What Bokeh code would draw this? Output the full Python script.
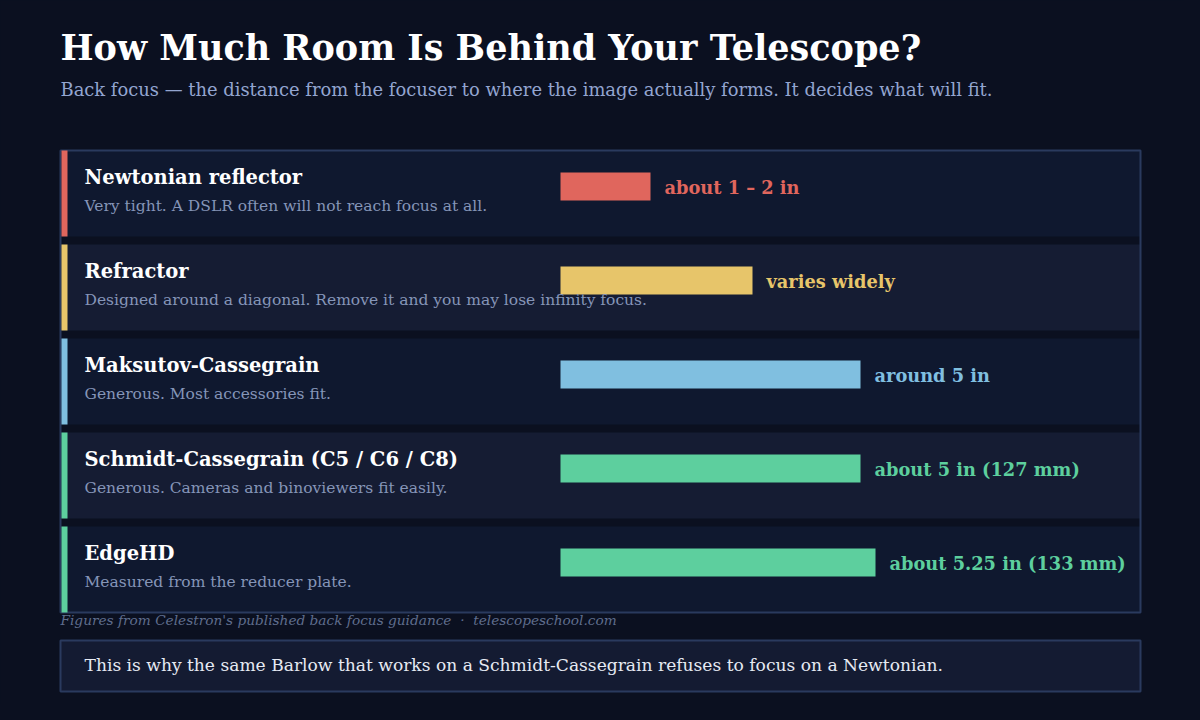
from bokeh.plotting import figure
from bokeh.models import Range1d, ColumnDataSource
from bokeh.core.properties import value
from bokeh.embed import file_html
from bokeh.resources import INLINE

# ---- data ----
scopes = ["Newtonian reflector", "Refractor", "Maksutov-Cassegrain",
          "Schmidt-Cassegrain (C5 / C6 / C8)", "EdgeHD"]
notes = ["Very tight. A DSLR often will not reach focus at all.",
         "Designed around a diagonal. Remove it and you may lose infinity focus.",
         "Generous. Most accessories fit.",
         "Generous. Cameras and binoviewers fit easily.",
         "Measured from the reducer plate."]
back_focus_in = [1.5, 3.2, 5.0, 5.0, 5.25]
value_labels = ["about 1 \u2013 2 in", "varies widely", "around 5 in",
                "about 5 in (127 mm)", "about 5.25 in (133 mm)"]
colors = ["#e0665d", "#e7c56a", "#80bfe0", "#5dcf9e", "#5dcf9e"]

title = "How Much Room Is Behind Your Telescope?"
subtitle = ("Back focus \u2014 the distance from the focuser to where the image "
            "actually forms. It decides what will fit.")
source_note = "Figures from Celestron's published back focus guidance \u00a0\u00b7\u00a0 telescopeschool.com"
takeaway = ("This is why the same Barlow that works on a Schmidt-Cassegrain "
            "refuses to focus on a Newtonian.")

# ---- style / layout ----
BG = "#0b1020"
ROW_FILLS = ["#0f182f", "#151c33"]
BORDER = "#2a3a5e"
FONT = value("DejaVu Serif")
W, H = 1184, 704
PANEL_L, PANEL_R, PANEL_T = 60, 1140, 150
ROW_H, GAP = 86, 8
BAR_X0, PX_PER_IN = 560, 60.0

p = figure(width=W, height=H, output_backend="svg", toolbar_location=None,
           x_range=Range1d(0, W), y_range=Range1d(H, 0),
           min_border=0, background_fill_color=BG, border_fill_color=BG,
           outline_line_color=None)
p.axis.visible = False
p.grid.visible = False
p.extra_x_ranges = {"inch": Range1d((0 - BAR_X0) / PX_PER_IN, (W - BAR_X0) / PX_PER_IN)}

n = len(scopes)
tops = [PANEL_T + i * (ROW_H + GAP) for i in range(n)]
bottoms = [t + ROW_H for t in tops]
src = ColumnDataSource(dict(
    name=scopes, note=notes, v=back_focus_in, lab=value_labels, color=colors,
    top=tops, bottom=bottoms, fill=[ROW_FILLS[i % 2] for i in range(n)],
    name_y=[t + 27 for t in tops], note_y=[t + 55 for t in tops],
    bar_t=[t + 22 for t in tops], bar_b=[t + 50 for t in tops],
    lab_y=[t + 37 for t in tops], zero=[0] * n,
))

# rows
p.quad(left=PANEL_L, right=PANEL_R, top="top", bottom="bottom", fill_color="fill",
       line_color=None, source=src)
# outer border
p.quad(left=[PANEL_L], right=[PANEL_R], top=[PANEL_T], bottom=[bottoms[-1]],
       fill_color=None, line_color=BORDER, line_width=2)
# accent strips
p.quad(left=PANEL_L + 1, right=PANEL_L + 7, top="top", bottom="bottom",
       fill_color="color", line_color=None, source=src)
# bars
p.quad(left="zero", right="v", top="bar_t", bottom="bar_b", fill_color="color",
       line_color=None, source=src, x_range_name="inch")
p.text(x="v", y="lab_y", text="lab", text_color="color", x_offset=14,
       text_font=FONT, text_font_style="bold", text_font_size="17.8px",
       text_baseline="alphabetic", source=src, x_range_name="inch")
# names and notes
p.text(x=84, y="name_y", text="name", text_color="#ffffff", text_font=FONT,
       text_font_style="bold", text_font_size="19.5px", text_baseline="alphabetic",
       source=src)
p.text(x=84, y="note_y", text="note", text_color="#8595b8", text_font=FONT,
       text_font_size="15.5px", text_baseline="alphabetic", source=src)

# title, subtitle
p.text(x=[60], y=[47], text=[title], text_color="#ffffff", text_font=FONT,
       text_font_style="bold", text_font_size="35px", text_baseline="alphabetic")
p.text(x=[60], y=[89], text=[subtitle], text_color="#93a5d0", text_font=FONT,
       text_font_size="17.9px", text_baseline="alphabetic")

# source note
p.text(x=[60], y=[619], text=[source_note], text_color="#5f6d8d", text_font=FONT,
       text_font_style="italic", text_font_size="13.7px", text_baseline="alphabetic")

# takeaway box
p.quad(left=[PANEL_L], right=[PANEL_R], top=[640], bottom=[691],
       fill_color="#141b32", line_color=BORDER, line_width=2)
p.text(x=[84], y=[664], text=[takeaway], text_color="#e6eaf3", text_font=FONT,
       text_font_size="17.1px", text_baseline="alphabetic")

html = file_html(p, INLINE, title="Back focus")
html = html.replace("</head>", "<style>html,body{background:%s;}</style></head>" % BG, 1)
open("out.html", "w").write(html)
